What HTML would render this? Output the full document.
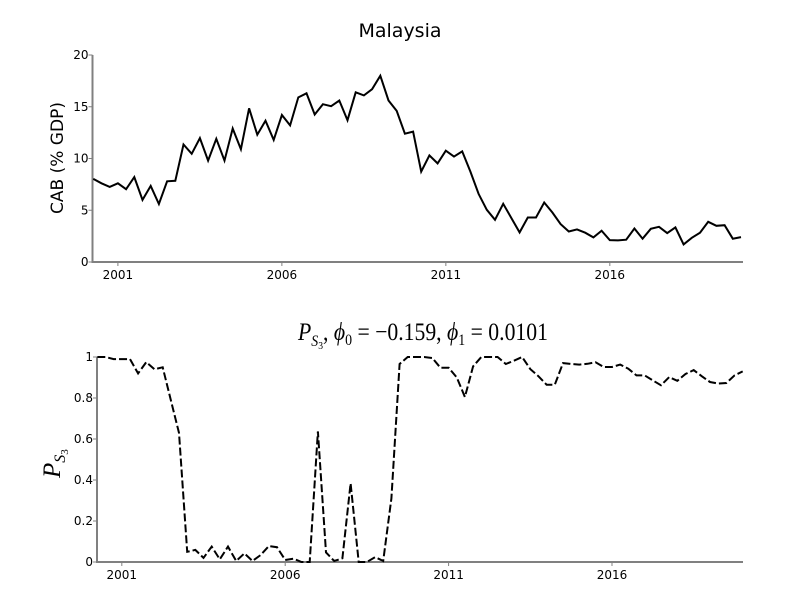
<!DOCTYPE html>
<html><head><meta charset="utf-8"><style>
body{margin:0;background:#fff;}
svg{display:block;}
text{font-family:"DejaVu Sans","Liberation Sans",sans-serif;fill:#000;}
.m{font-family:"Liberation Serif","DejaVu Serif",serif;font-style:italic;}
.r{font-family:"Liberation Serif","DejaVu Serif",serif;}
</style></head><body>
<svg id="c" width="800" height="600">
<text x="400" y="37" text-anchor="middle" font-size="19">Malaysia</text>
<text transform="translate(63,158) rotate(-90)" text-anchor="middle" font-size="17">CAB (% GDP)</text>
<text x="298" y="340" font-size="25" textLength="250" lengthAdjust="spacingAndGlyphs"><tspan class="m">P</tspan><tspan class="m" font-size="16" dy="6">S</tspan><tspan class="r" font-size="11" dy="3">3</tspan><tspan class="r" dy="-9">, </tspan><tspan class="m">ϕ</tspan><tspan class="r" font-size="16" dy="5">0</tspan><tspan class="r" dy="-5"> = −0.159, </tspan><tspan class="m">ϕ</tspan><tspan class="r" font-size="16" dy="5">1</tspan><tspan class="r" dy="-5"> = 0.0101</tspan></text>
<text transform="translate(60,478) rotate(-90)" font-size="25"><tspan class="m">P</tspan><tspan class="m" font-size="16" dy="5">S</tspan><tspan class="r" font-size="11" dy="3">3</tspan></text>
<g id="g"></g>
</svg>
<script>
const cab = [8.03,7.6,7.26,7.6,7.03,8.2,6.0,7.35,5.6,7.8,7.85,11.35,10.45,11.97,9.8,11.9,9.8,12.9,10.9,14.85,12.3,13.65,11.8,14.2,13.2,15.9,16.3,14.25,15.25,15.05,15.6,13.7,16.4,16.1,16.7,18.0,15.6,14.6,12.4,12.6,8.73,10.3,9.53,10.75,10.18,10.69,8.73,6.58,5.04,4.08,5.62,4.24,2.86,4.3,4.3,5.75,4.78,3.66,2.95,3.15,2.83,2.38,3.02,2.12,2.09,2.15,3.24,2.25,3.21,3.4,2.79,3.34,1.7,2.34,2.83,3.88,3.5,3.56,2.25,2.41];
const ps3 = [1.0,1.0,0.99,0.99,0.99,0.92,0.975,0.94,0.95,0.79,0.63,0.05,0.059,0.02,0.075,0.013,0.075,0.005,0.042,0.005,0.034,0.078,0.072,0.01,0.016,0.0,0.0,0.637,0.047,0.005,0.018,0.384,0.0,0.0,0.024,0.005,0.31,0.966,1.0,1.0,1.0,0.995,0.948,0.948,0.90,0.805,0.954,1.0,1.0,1.0,0.966,0.982,1.0,0.941,0.906,0.865,0.865,0.97,0.966,0.963,0.967,0.974,0.951,0.951,0.963,0.943,0.91,0.91,0.886,0.862,0.902,0.884,0.917,0.936,0.906,0.878,0.87,0.873,0.91,0.93];
const xTickIdx = [3,23,43,63];
const xTickLabels = ["2001","2006","2011","2016"];
const topTicks = [0,5,10,15,20];
const botTicks = [0,0.2,0.4,0.6,0.8,1];
const botTickLabels = ["0","0.2","0.4","0.6","0.8","1"];

const NS="http://www.w3.org/2000/svg";
const g=document.getElementById('g');
function mk(t,a){const e=document.createElementNS(NS,t);for(const k in a)e.setAttribute(k,a[k]);g.appendChild(e);return e;}

function panel(cfg){
  const n=cfg.data.length;
  const sx=i=>cfg.x0+(cfg.x1-cfg.x0)*i/(n-1);
  const sy=v=>cfg.yb-(cfg.yb-cfg.yt)*(v-cfg.ymin)/(cfg.ymax-cfg.ymin);
  let l=mk('line',{x1:cfg.ax,y1:sy(cfg.ymax),x2:cfg.ax,y2:cfg.yb+1,stroke:'#808080','stroke-width':2});
  
  
  l=mk('line',{x1:cfg.ax,y1:cfg.yb,x2:743,y2:cfg.yb,stroke:'#808080','stroke-width':2});
  
  
  cfg.yt_ticks.forEach((v,k)=>{
    const y=sy(v);
    const t=mk('line',{x1:cfg.ax-4,y1:y,x2:cfg.ax,y2:y,stroke:'#808080','stroke-width':1});
    
    
    const tx=mk('text',{x:cfg.ax-4,y:y+4,'text-anchor':'end','font-size':12});
    tx.textContent=cfg.yLabels[k];
    
    
  });
  xTickIdx.forEach((i,k)=>{
    const x=sx(i);
    const t=mk('line',{x1:x,y1:cfg.yb,x2:x,y2:cfg.yb+4,stroke:'#808080','stroke-width':1});
    
    
    const tx=mk('text',{x:x,y:cfg.yb+17,'text-anchor':'middle','font-size':12});
    tx.textContent=xTickLabels[k];
    
    
  });
  const d=cfg.data.map((v,i)=>(i?'L':'M')+sx(i).toFixed(1)+','+sy(v).toFixed(1)).join('');
  const p=mk('path',{d:d,fill:'none',stroke:'#000','stroke-width':2,'stroke-linejoin':'miter'});
  if(cfg.dash)p.setAttribute('stroke-dasharray','8,3');
  
  
}
panel({p:'top',data:cab,x0:93.3,x1:741,ax:92.5,yb:262,yt:55,ymin:0,ymax:20,yt_ticks:topTicks,yLabels:topTicks.map(String),dash:false});
panel({p:'bottom',data:ps3,x0:97.3,x1:742.7,ax:97,yb:562,yt:357,ymin:0,ymax:1,yt_ticks:botTicks,yLabels:botTickLabels,dash:true});
</script>
</body></html>
